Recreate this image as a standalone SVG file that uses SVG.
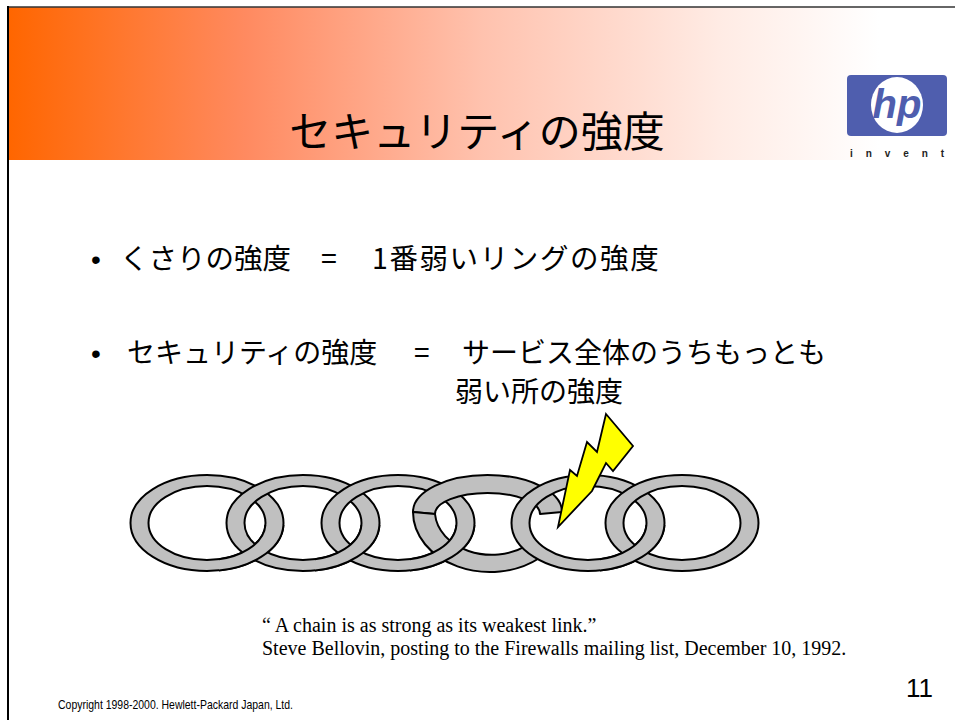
<svg xmlns="http://www.w3.org/2000/svg" xmlns:xlink="http://www.w3.org/1999/xlink" width="955" height="720" viewBox="0 0 955 720">
  <style>
    .jp { font-family: "Noto Sans CJK JP", "Noto Sans CJK SC", sans-serif; fill: #000; }
    .serif { font-family: "Liberation Serif", "Times New Roman", serif; fill: #000; font-size: 20px; }
    .band { fill: #C0C0C0; stroke: #000; stroke-width: 2; fill-rule: evenodd; stroke-linejoin: round; }
    .bolt { fill: #FFFF00; stroke: #000; stroke-width: 1.8; stroke-linejoin: miter; }
  </style>
  <defs>
    <linearGradient id="headerFill" x1="0" y1="0" x2="1" y2="0">
      <stop offset="0" stop-color="#FF6600"/>
      <stop offset="0.25" stop-color="#FF8A60"/>
      <stop offset="0.5" stop-color="#FFC2AE"/>
      <stop offset="0.75" stop-color="#FFEBE4"/>
      <stop offset="0.92" stop-color="#FFFFFF"/>
    </linearGradient>
    <!-- one chain link, centred on the origin -->
    <path id="ring" d="M-76.5,0 a76.5,48 0 1,0 153,0 a76.5,48 0 1,0 -153,0 Z M-58.5,0 a58.5,37 0 1,0 117,0 a58.5,37 0 1,0 -117,0 Z"/>
    <!-- lower right quarter of a link, where it passes over the next one -->
    <clipPath id="lowerRight" clipPathUnits="userSpaceOnUse">
      <rect x="12" y="2" width="70" height="55"/>
    </clipPath>
  </defs>

  <!-- page -->
  <rect x="0" y="0" width="955" height="720" fill="#FFFFFF"/>
  <rect x="9" y="7" width="946" height="153" fill="url(#headerFill)"/>
  <line x1="8" y1="7" x2="955" y2="7" stroke="#333" stroke-width="1.5"/>
  <line x1="8" y1="6" x2="8" y2="720" stroke="#000" stroke-width="2"/>

  <!-- title -->
  <text id="title" class="jp" x="477" y="147" font-size="42" text-anchor="middle">セキュリティの強度</text>

  <!-- logo -->
  <g id="logo">
    <rect x="847" y="75" width="100" height="61" rx="4" fill="#4F5EAE"/>
    <ellipse cx="897" cy="105" rx="26" ry="28" fill="#FFFFFF"/>
    <text x="897" y="118" font-family="Liberation Sans, Arial, sans-serif" font-size="40" font-weight="bold" font-style="italic" fill="#4F5EAE" text-anchor="middle">hp</text>
    <text x="850" y="157" font-family="Liberation Sans, Arial, sans-serif" font-size="10" font-weight="bold" fill="#222" textLength="94" lengthAdjust="spacing">invent</text>
  </g>

  <!-- bullets -->
  <g id="bullet-1">
    <text x="91" y="269" font-family="Liberation Sans, Arial, sans-serif" font-size="28">•</text>
    <text class="jp" x="120" y="269" font-size="28.5">くさりの強度</text>
    <text class="jp" x="321" y="269" font-size="28.5">=</text>
    <text class="jp" x="372" y="269" font-size="28.5" letter-spacing="1.6">1番弱いリングの強度</text>
  </g>
  <g id="bullet-2">
    <text x="91" y="363" font-family="Liberation Sans, Arial, sans-serif" font-size="28">•</text>
    <text class="jp" x="127" y="363" font-size="28">セキュリティの強度</text>
    <text class="jp" x="414" y="363" font-size="28">=</text>
    <text class="jp" x="462" y="363" font-size="28">サービス全体のうちもっとも</text>
    <text class="jp" x="455" y="402" font-size="28">弱い所の強度</text>
  </g>

  <!-- chain: later links lie on top at the upper crossings,
       each link is redrawn over its right neighbour at the lower crossing -->
  <g id="chain">
    <g id="link-1" transform="translate(207,523)"><use xlink:href="#ring" class="band"/></g>
    <g id="link-2" transform="translate(303,523)"><use xlink:href="#ring" class="band"/></g>
    <g transform="translate(207,523)" clip-path="url(#lowerRight)"><use xlink:href="#ring" class="band"/></g>
    <g id="link-3" transform="translate(398,523)"><use xlink:href="#ring" class="band"/></g>
    <g transform="translate(303,523)" clip-path="url(#lowerRight)"><use xlink:href="#ring" class="band"/></g>

    <!-- broken link, split into an upper and a lower piece -->
    <g id="link-4">
      <path class="band" d="M413,512 A74.5,37 0 0 1 562,512 L540,514 A52.5,21 0 0 0 435,514 Z"/>
      <path class="band" d="M413,512 A77,60 0 0 0 539.5,558 L526.6,545.7 A57,44 0 0 1 435,514 Z"/>
    </g>
    <g transform="translate(398,523)" clip-path="url(#lowerRight)"><use xlink:href="#ring" class="band"/></g>

    <g id="link-5" transform="translate(588,523)"><use xlink:href="#ring" class="band"/></g>
    <g id="link-6" transform="translate(682,523)"><use xlink:href="#ring" class="band"/></g>
    <g transform="translate(588,523)" clip-path="url(#lowerRight)"><use xlink:href="#ring" class="band"/></g>
  </g>

  <!-- lightning strike on the weak link -->
  <g id="bolt">
    <polygon class="bolt" points="606,414 633,446 613,471 606,463 592,491 558,527 570,470 577,476 587,442 597,452"/>
  </g>

  <!-- quotation -->
  <g id="quote">
    <text class="serif" x="262" y="632">“ A chain is as strong as its weakest link.”</text>
    <text class="serif" x="262" y="655">Steve Bellovin, posting to the Firewalls mailing list, December 10, 1992.</text>
  </g>

  <!-- footer -->
  <text id="page-number" x="906" y="697" font-family="Liberation Sans, Arial, sans-serif" font-size="26" fill="#000">11</text>
  <text id="copyright" x="58" y="709" font-family="Liberation Sans, Arial, sans-serif" font-size="13" fill="#000" textLength="235" lengthAdjust="spacingAndGlyphs">Copyright 1998-2000. Hewlett-Packard Japan, Ltd.</text>
</svg>
